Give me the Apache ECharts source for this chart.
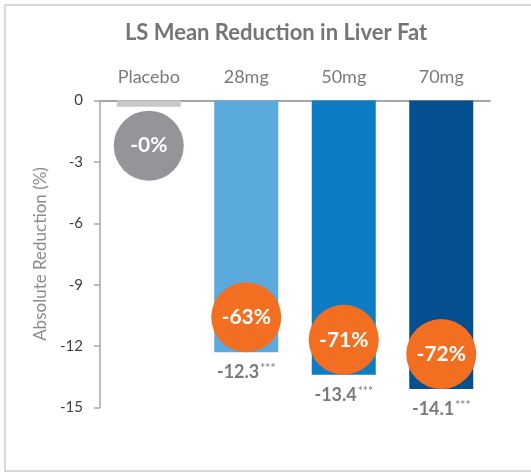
<!DOCTYPE html>
<html>
<head>
<meta charset="utf-8">
<script src="https://cdn.jsdelivr.net/npm/echarts@6/dist/echarts.min.js"></script>
<style>
  html, body { margin: 0; padding: 0; background: #ffffff; }
  #chart { width: 531px; height: 473px; }
</style>
</head>
<body>
<div id="chart"></div>
<script>
// Dose groups and their least-squares mean absolute change in liver fat (%)
const categories = ['Placebo', '28mg', '50mg', '70mg'];
const meanReduction = [-0.3, -12.3, -13.4, -14.1];
// Relative reduction shown in the round badges
const relativeReduction = ['-0%', '-63%', '-71%', '-72%'];
// Significance marks printed after the absolute value
const significance = ['', '***', '***', '***'];
// Y axis ticks
const yTicks = { min: -15, max: 0, step: 3 };

const barColors = ['#c8c8c8', '#5aaade', '#0d7cc4', '#044f8f'];
const badgeColors = ['#939598', '#f26f21', '#f26f21', '#f26f21'];
const FONT = 'Lato, "Open Sans", sans-serif';

const chart = echarts.init(document.getElementById('chart'), null, { renderer: 'canvas' });

const barData = meanReduction.map((v, i) => ({
  value: v,
  itemStyle: { color: barColors[i] },
  label: { show: significance[i] !== '' }
}));

// Badges: placebo badge hangs below its thin bar, the others rest on the bar end
const badgeData = meanReduction.map((v, i) => ({
  value: v,
  symbolOffset: i === 0 ? [0, 39] : [0, -35],
  itemStyle: { color: badgeColors[i], opacity: 1 },
  label: { formatter: relativeReduction[i] }
}));

chart.setOption({
  animation: false,
  backgroundColor: '#ffffff',
  title: {
    text: 'LS Mean Reduction in Liver Fat',
    left: 276,
    textAlign: 'center',
    top: 22,
    padding: 0,
    textStyle: { fontFamily: FONT, fontSize: 22, fontWeight: 'bold', color: '#757575' }
  },
  graphic: [{
    type: 'rect',
    shape: { x: 5, y: 5, width: 560, height: 466 },
    style: { fill: 'none', stroke: '#d9d9d9', lineWidth: 2 },
    silent: true,
    z: -1
  }],
  grid: { left: 100, right: 41, top: 100.5, bottom: 65.5, containLabel: false },
  xAxis: {
    type: 'category',
    position: 'top',
    data: categories,
    axisLine: { show: true, lineStyle: { color: '#a6a6a6', width: 2 } },
    axisTick: { show: false },
    axisLabel: { margin: 14, fontFamily: FONT, fontSize: 18, color: '#7a7a7a' }
  },
  yAxis: {
    type: 'value',
    min: yTicks.min,
    max: yTicks.max,
    interval: yTicks.step,
    name: 'Absolute Reduction (%)',
    nameLocation: 'middle',
    nameRotate: 90,
    nameGap: 46,
    nameTextStyle: { fontFamily: FONT, fontSize: 17, color: '#8c8c8c' },
    axisLine: { show: true, lineStyle: { color: '#a6a6a6', width: 1.5 } },
    axisTick: { show: true, length: 6, lineStyle: { color: '#a6a6a6', width: 1.5 } },
    axisLabel: { margin: 17, fontFamily: FONT, fontSize: 15, color: '#404040' },
    splitLine: { show: false }
  },
  series: [
    {
      type: 'bar',
      data: barData,
      barWidth: 64,
      label: {
        position: 'bottom',
        distance: 10,
        formatter: (p) => '{v|' + p.value.toFixed(1) + '}{s|' + significance[p.dataIndex] + '}',
        rich: {
          v: { fontFamily: FONT, fontSize: 18, fontWeight: 'bold', color: '#7a7a7a', lineHeight: 20 },
          s: { fontFamily: FONT, fontSize: 12, fontWeight: 'bold', color: '#8f8f8f', verticalAlign: 'top', lineHeight: 20, padding: [0, 0, 8, 1] }
        }
      },
      z: 2
    },
    {
      type: 'scatter',
      data: badgeData,
      symbol: 'circle',
      symbolSize: 70,
      label: {
        show: true,
        position: 'inside',
        fontFamily: FONT,
        fontSize: 21,
        fontWeight: 'bold',
        color: '#ffffff'
      },
      emphasis: { disabled: true },
      z: 3
    }
  ]
});
</script>
</body>
</html>
